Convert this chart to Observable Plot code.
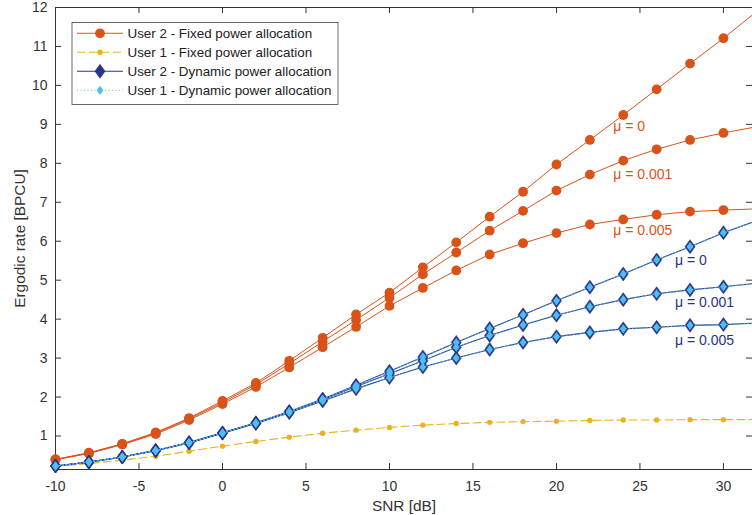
<!DOCTYPE html>
<html>
<head>
<meta charset="utf-8">
<script src="https://cdn.jsdelivr.net/npm/d3@7"></script>
<script src="https://cdn.jsdelivr.net/npm/@observablehq/plot@0.6"></script>
<style>
  html, body { margin: 0; padding: 0; background: #fff; }
  #chart svg { display: block; }
</style>
</head>
<body>
<div id="chart"></div>
<script>
// ---------- data ----------
const snr = [-10, -8, -6, -4, -2, 0, 2, 4, 6, 8, 10, 12, 14, 16, 18, 20, 22, 24, 26, 28, 30, 32];
const xTicks = [-10, -5, 0, 5, 10, 15, 20, 25, 30];
const yTicks = [1, 2, 3, 4, 5, 6, 7, 8, 9, 10, 11, 12];

// User 2 - Fixed power allocation
const fixedU2_mu0   = [0.40, 0.57, 0.80, 1.09, 1.46, 1.90, 2.36, 2.93, 3.52, 4.12, 4.68, 5.33, 5.97, 6.63, 7.27, 7.97, 8.60, 9.24, 9.90, 10.56, 11.21, 11.90];
const fixedU2_mu001 = [0.40, 0.56, 0.79, 1.07, 1.44, 1.86, 2.32, 2.86, 3.42, 3.98, 4.55, 5.15, 5.71, 6.27, 6.78, 7.30, 7.71, 8.07, 8.36, 8.60, 8.78, 8.94];
const fixedU2_mu005 = [0.39, 0.55, 0.78, 1.05, 1.41, 1.82, 2.26, 2.76, 3.28, 3.80, 4.34, 4.80, 5.25, 5.66, 5.95, 6.21, 6.43, 6.56, 6.68, 6.76, 6.80, 6.83];
// User 1 - Fixed power allocation
const fixedU1       = [0.22, 0.29, 0.38, 0.48, 0.61, 0.74, 0.86, 0.97, 1.07, 1.15, 1.22, 1.28, 1.32, 1.35, 1.37, 1.38, 1.40, 1.41, 1.41, 1.42, 1.42, 1.42];
// User 2 - Dynamic power allocation
const dynU2_mu0     = [0.23, 0.33, 0.46, 0.63, 0.83, 1.08, 1.34, 1.63, 1.95, 2.30, 2.66, 3.03, 3.40, 3.76, 4.11, 4.47, 4.82, 5.16, 5.52, 5.86, 6.22, 6.53];
const dynU2_mu001   = [0.23, 0.33, 0.46, 0.63, 0.83, 1.08, 1.33, 1.62, 1.93, 2.27, 2.60, 2.93, 3.28, 3.58, 3.85, 4.10, 4.32, 4.50, 4.65, 4.75, 4.83, 4.92];
const dynU2_mu005   = [0.23, 0.33, 0.46, 0.62, 0.82, 1.07, 1.32, 1.60, 1.90, 2.21, 2.50, 2.77, 3.00, 3.22, 3.40, 3.55, 3.66, 3.75, 3.79, 3.84, 3.86, 3.90];
// User 1 - Dynamic power allocation (overlaps the User 2 dynamic curves)
const dynU1_mu0     = [0.23, 0.33, 0.46, 0.63, 0.83, 1.08, 1.34, 1.63, 1.95, 2.30, 2.66, 3.03, 3.40, 3.76, 4.11, 4.47, 4.82, 5.16, 5.52, 5.86, 6.22, 6.53];
const dynU1_mu001   = [0.23, 0.33, 0.46, 0.63, 0.83, 1.08, 1.33, 1.62, 1.93, 2.27, 2.60, 2.93, 3.28, 3.58, 3.85, 4.10, 4.32, 4.50, 4.65, 4.75, 4.83, 4.92];
const dynU1_mu005   = [0.23, 0.33, 0.46, 0.62, 0.82, 1.07, 1.32, 1.60, 1.90, 2.21, 2.50, 2.77, 3.00, 3.22, 3.40, 3.55, 3.66, 3.75, 3.79, 3.84, 3.86, 3.90];

// curve annotations
const labelText  = ["μ = 0", "μ = 0.001", "μ = 0.005", "μ = 0", "μ = 0.001", "μ = 0.005"];
const labelX     = [23.4, 23.4, 23.4, 27.1, 27.1, 27.1];
const labelY     = [8.94, 7.71, 6.27, 5.50, 4.42, 3.45];
const labelGroup = ["fixed", "fixed", "fixed", "dynamic", "dynamic", "dynamic"];

const legendNames = [
  "User 2 - Fixed power allocation",
  "User 1 - Fixed power allocation",
  "User 2 - Dynamic power allocation",
  "User 1 - Dynamic power allocation"
];

// ---------- build tables ----------
const rows = (values, series) => snr.map((x, i) => ({x, y: values[i], series}));
const fixedU2 = [
  ...rows(fixedU2_mu0, "f0"), ...rows(fixedU2_mu001, "f1"), ...rows(fixedU2_mu005, "f2")
];
const fixedU1Rows = rows(fixedU1, "u1");
const dynU2 = [
  ...rows(dynU2_mu0, "d0"), ...rows(dynU2_mu001, "d1"), ...rows(dynU2_mu005, "d2")
];
const dynU1 = [
  ...rows(dynU1_mu0, "e0"), ...rows(dynU1_mu001, "e1"), ...rows(dynU1_mu005, "e2")
];
const shown = d => d.x <= 30;
const labels = labelText.map((t, i) => ({text: t, x: labelX[i], y: labelY[i], group: labelGroup[i]}));

// ---------- style ----------
const RED = "#D95319", YEL = "#EDB120", NAVY = "#27348B", CYAN = "#4DBEEE", AX = "#333333";
const W = 752, H = 515, mL = 55, mR = 0, mT = 7, mB = 46;
const fw = W - mL - mR, fh = H - mT - mB, tk = 6;
const FONT = "'Liberation Sans', Arial, Helvetica, sans-serif";

const diamond = (k) => ({
  draw(context, size) {
    const r = Math.sqrt(size / Math.PI);
    const w = r * k;
    context.moveTo(0, -r);
    context.lineTo(w, 0);
    context.lineTo(0, r);
    context.lineTo(-w, 0);
    context.closePath();
  }
});
const bigDiamond = diamond(0.72);
const smallDiamond = diamond(0.74);

const plot = Plot.plot({
  width: W, height: H,
  marginLeft: mL, marginRight: mR, marginTop: mT, marginBottom: mB,
  style: {fontFamily: FONT, fontSize: "14px", color: "#333", background: "#fff", overflow: "visible"},
  x: {domain: [-10, 31.74]},
  y: {domain: [0.14, 12]},
  marks: [
    Plot.frame({stroke: AX, strokeWidth: 1}),
    // inward ticks
    Plot.tickX(xTicks, {x: d => d, insetTop: fh - tk, stroke: AX}),
    Plot.tickX(xTicks, {x: d => d, insetBottom: fh - tk, stroke: AX}),
    Plot.tickY(yTicks, {y: d => d, insetRight: fw - tk, stroke: AX}),
    Plot.tickY(yTicks, {y: d => d, insetLeft: fw - tk, stroke: AX}),
    Plot.axisX({ticks: xTicks, tickSize: 0, tickPadding: 12, tickFormat: d => String(d),
      label: "SNR [dB]", labelAnchor: "center", labelOffset: 41, labelArrow: "none"}),
    Plot.axisY({ticks: yTicks, tickSize: 0, tickPadding: 8, tickFormat: d => String(d),
      label: "Ergodic rate [BPCU]", labelAnchor: "center", labelOffset: 41, labelArrow: "none"}),
    // User 2 fixed
    Plot.line(fixedU2, {x: "x", y: "y", z: "series", stroke: RED, strokeWidth: 1}),
    Plot.dot(fixedU2, {filter: shown, x: "x", y: "y", r: 4.9, fill: RED, stroke: "none"}),
    // User 1 fixed
    Plot.line(fixedU1Rows, {x: "x", y: "y", stroke: YEL, strokeWidth: 1.1, strokeDasharray: "8,4"}),
    Plot.dot(fixedU1Rows, {filter: shown, x: "x", y: "y", r: 2.7, fill: YEL, stroke: "none"}),
    // User 2 dynamic
    Plot.line(dynU2, {x: "x", y: "y", z: "series", stroke: NAVY, strokeWidth: 1.1}),
    Plot.dot(dynU2, {filter: shown, x: "x", y: "y", r: 7, symbol: bigDiamond, fill: NAVY, stroke: NAVY, strokeWidth: 0.6}),
    // User 1 dynamic
    Plot.line(dynU1, {x: "x", y: "y", z: "series", stroke: CYAN, strokeWidth: 0.9, strokeDasharray: "1,2.5"}),
    Plot.dot(dynU1, {filter: shown, x: "x", y: "y", r: 4.6, symbol: smallDiamond, fill: CYAN, stroke: "none"}),
    // annotations
    Plot.text(labels, {x: "x", y: "y", text: "text", textAnchor: "start", fontSize: 14,
      fill: d => d.group === "fixed" ? RED : NAVY})
  ]
});

document.getElementById("chart").appendChild(plot);

// axis titles a little larger than tick labels
d3.select(plot).selectAll('[aria-label="x-axis label"], [aria-label="y-axis label"]')
  .attr("font-size", "15.4px");

// ---------- legend (inside the axes, top-left) ----------
const svg = d3.select(plot);
const lg = svg.append("g")
  .attr("font-family", FONT).attr("font-size", "13.4px").attr("text-anchor", "start");
lg.append("rect").attr("x", 72).attr("y", 22.5).attr("width", 266).attr("height", 82)
  .attr("fill", "#fff").attr("stroke", "#444").attr("stroke-width", 0.8);
const legendStyle = [
  {stroke: RED, dash: null, marker: "circle", r: 4.9, fill: RED},
  {stroke: YEL, dash: "8,4", marker: "circle", r: 2.7, fill: YEL},
  {stroke: NAVY, dash: null, marker: "big", r: 7, fill: NAVY},
  {stroke: CYAN, dash: "1,2.5", marker: "small", r: 4.6, fill: CYAN}
];
legendNames.forEach((name, i) => {
  const s = legendStyle[i];
  const cy = 33.3 + i * 19;
  const row = lg.append("g");
  const ln = row.append("line").attr("x1", 77).attr("x2", 123).attr("y1", cy).attr("y2", cy)
    .attr("stroke", s.stroke).attr("stroke-width", 1.1);
  if (s.dash) ln.attr("stroke-dasharray", s.dash);
  const sym = s.marker === "circle" ? d3.symbolCircle : (s.marker === "big" ? bigDiamond : smallDiamond);
  row.append("path").attr("transform", `translate(100,${cy})`)
    .attr("d", d3.symbol(sym, s.r * s.r * Math.PI)())
    .attr("fill", s.fill).attr("stroke", s.marker === "big" ? NAVY : "none").attr("stroke-width", 0.6);
  row.append("text").attr("x", 127.5).attr("y", cy).attr("dy", "0.35em")
    .attr("text-anchor", "start").attr("fill", "#222").text(name);
});
</script>
</body>
</html>
